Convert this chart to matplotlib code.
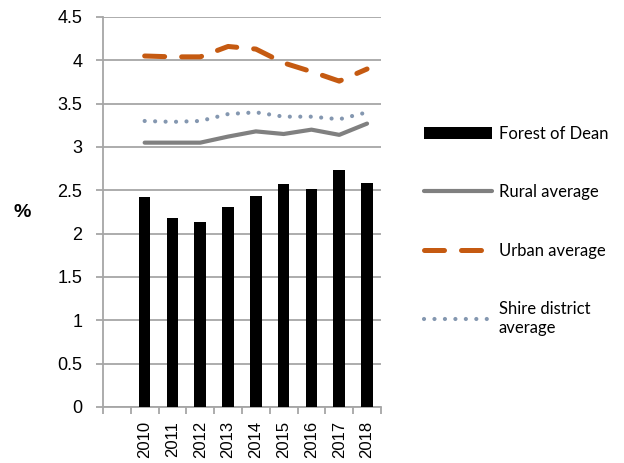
import matplotlib
matplotlib.use('Agg')
import matplotlib.pyplot as plt
import numpy as np

years = ['', '2010', '2011', '2012', '2013', '2014', '2015', '2016', '2017', '2018']
forest = [np.nan, 2.42, 2.18, 2.13, 2.31, 2.43, 2.57, 2.52, 2.73, 2.59]
rural = [np.nan, 3.05, 3.05, 3.05, 3.12, 3.18, 3.15, 3.20, 3.14, 3.27]
urban = [np.nan, 4.05, 4.04, 4.04, 4.16, 4.13, 3.97, 3.87, 3.76, 3.90]
shire = [np.nan, 3.30, 3.29, 3.30, 3.38, 3.40, 3.35, 3.35, 3.32, 3.40]

plt.rcParams['font.family'] = ['Liberation Sans', 'DejaVu Sans']

fig = plt.figure(figsize=(6.24, 4.63), dpi=100)
ax = fig.add_axes([0.165, 0.121, 0.4455, 0.8423])
x = np.arange(len(years))

grid_col = '#a6a6a6'
b = ax.bar(x, forest, width=0.42, color='black', label='Forest of Dean', zorder=3)
l1, = ax.plot(x, rural, color='#808080', lw=3, solid_capstyle='round', label='Rural average', zorder=4)
l2, = ax.plot(x, urban, color='#c55a11', lw=3.6, dashes=(4.0, 3.4), dash_capstyle='round',
              label='Urban average', zorder=4)
l3, = ax.plot(x, shire, color='#8497b0', lw=3, dashes=(0.01, 2.5), dash_capstyle='round',
              label='Shire district\naverage', zorder=4)

ax.set_xlim(-0.5, 9.5)
ax.set_ylim(0, 4.5)
ax.set_yticks(np.arange(0, 4.51, 0.5))
ax.set_yticklabels(['0', '0.5', '1', '1.5', '2', '2.5', '3', '3.5', '4', '4.5'], fontsize=13)
ax.yaxis.grid(True, color=grid_col, lw=1.3, zorder=0)
ax.set_xticks(x)
ax.set_xticklabels(years, rotation=90, fontsize=12)
ax.set_xticks(np.arange(-0.5, 10, 1), minor=True)
ax.tick_params(axis='x', which='major', length=0, pad=10)
ax.tick_params(axis='x', which='minor', length=5, color=grid_col, width=1.3)
ax.tick_params(axis='y', length=5, color=grid_col, width=1.3, pad=10)
for s in ['top', 'right']:
    ax.spines[s].set_visible(False)
for s in ['left', 'bottom']:
    ax.spines[s].set_color(grid_col)
    ax.spines[s].set_linewidth(1.3)

fig.text(0.035, 0.54, '%', fontsize=14, fontweight='bold', ha='center', va='center')

leg = ax.legend([b, l1, l2, l3], ['Forest of Dean', 'Rural average', 'Urban average', 'Shire district\naverage'],
                loc='upper left', bbox_to_anchor=(1.1, 0.76), frameon=False,
                prop={'family': ['Lato', 'DejaVu Sans'], 'size': 12},
                handlelength=4.1, labelspacing=2.55, handletextpad=0.4)

fig.savefig('out.png', dpi=100)
